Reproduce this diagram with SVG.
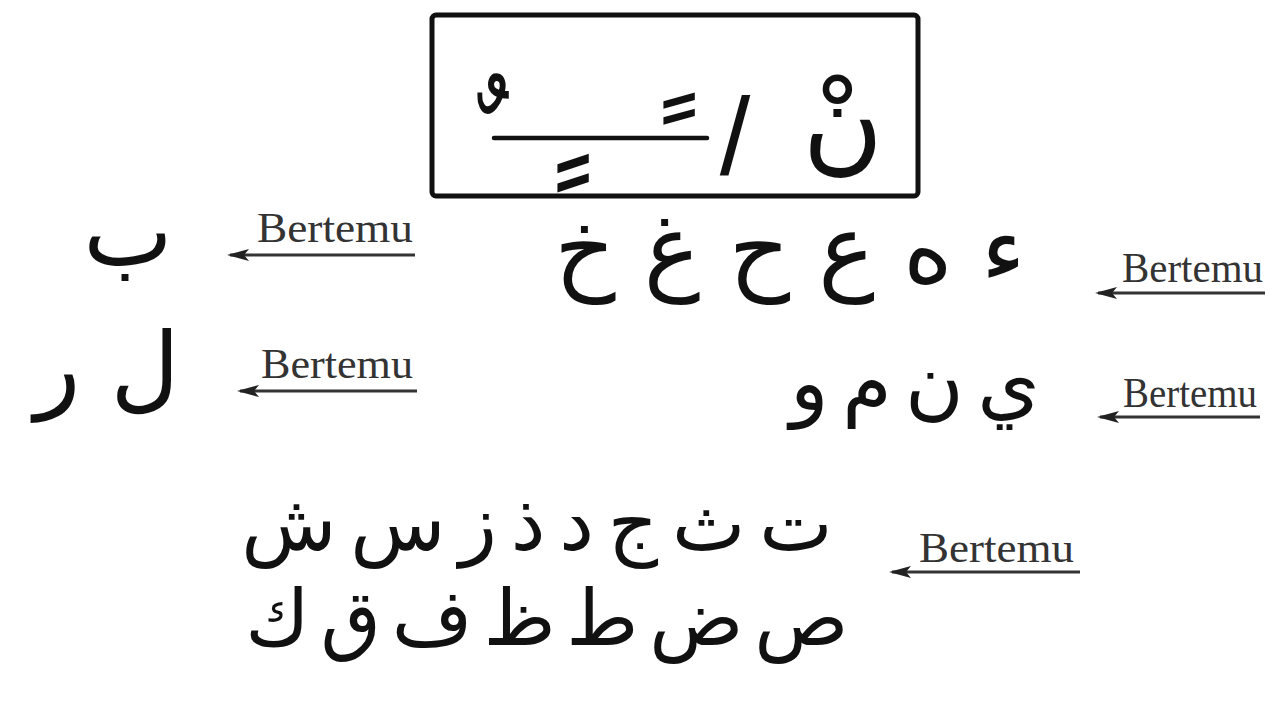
<svg xmlns="http://www.w3.org/2000/svg" width="1280" height="720" viewBox="0 0 1280 720">
<style>
.ar{font-family:"DejaVu Sans",sans-serif;fill:#111;text-anchor:middle}
.lbl{font-family:"Liberation Serif",serif;fill:#333;font-size:42px}
.arrow{stroke:#333;stroke-width:3;fill:none}
.mk{font-family:"DejaVu Sans",sans-serif;fill:#111;text-anchor:middle;font-size:110px}
</style>
<defs>
<marker id="ah" viewBox="0 0 22 12" refX="19" refY="6" markerWidth="22" markerHeight="12" orient="auto" markerUnits="userSpaceOnUse">
<path d="M22,6 L0,0 L5,6 L0,12 Z" fill="#222"/>
</marker>
</defs>
<rect width="1280" height="720" fill="#fff"/>
<g id="box">
<rect x="432" y="15" width="486" height="181" rx="4" fill="#fff" stroke="#111" stroke-width="5"/>
<line x1="494" y1="138" x2="707" y2="138" stroke="#111" stroke-width="4.5" stroke-linecap="round"/>
<text class="mk" transform="translate(493,199) scale(1,1.3)">ﹲ</text>
<text class="mk" transform="translate(679,206) scale(1,1.25)">ﹰ</text>
<text class="mk" transform="translate(573,153) scale(1,1.5)">ﹴ</text>
<text x="735" y="174" font-size="110" style="font-family:'Liberation Sans',sans-serif;fill:#111;text-anchor:middle">/</text>
<text class="ar" x="843" y="160" font-size="110">نْ</text>
</g>
<g id="row-ba">
<text class="ar" x="128" y="265" font-size="95">ب</text>
</g>
<g id="row-lr">
<text class="ar" x="107" y="400" font-size="95">ل ر</text>
</g>
<g id="row-halqi">
<text class="ar" x="790" y="282" font-size="95" word-spacing="-2">ء ه ع ح غ خ</text>
</g>
<g id="row-ynmw">
<text class="ar" x="915" y="410" font-size="80" word-spacing="-12">ي ن م و</text>
</g>
<g id="row-ikhfa1">
<text class="ar" x="537" y="550" font-size="78" word-spacing="-11">ت ث ج د ذ ز س ش</text>
</g>
<g id="row-ikhfa2">
<text class="ar" x="547" y="645" font-size="78" word-spacing="-14">ص ض ط ظ ف ق ك</text>
</g>
<g id="labels">
<text class="lbl" x="257" y="242" textLength="156" lengthAdjust="spacingAndGlyphs">Bertemu</text>
<text class="lbl" x="261" y="378" textLength="152" lengthAdjust="spacingAndGlyphs">Bertemu</text>
<text class="lbl" x="1122" y="282" textLength="141" lengthAdjust="spacingAndGlyphs" font-size="38">Bertemu</text>
<text class="lbl" x="1123" y="407" textLength="134" lengthAdjust="spacingAndGlyphs" font-size="36">Bertemu</text>
<text class="lbl" x="919" y="562" textLength="155" lengthAdjust="spacingAndGlyphs">Bertemu</text>
</g>
<g id="connectors">
<line class="arrow" x1="415" y1="255" x2="230" y2="255" marker-end="url(#ah)"/>
<line class="arrow" x1="417" y1="391" x2="240" y2="391" marker-end="url(#ah)"/>
<line class="arrow" x1="1265" y1="293" x2="1098" y2="293" marker-end="url(#ah)"/>
<line class="arrow" x1="1260" y1="417" x2="1100" y2="417" marker-end="url(#ah)"/>
<line class="arrow" x1="1080" y1="572" x2="892" y2="572" marker-end="url(#ah)"/>
</g>
</svg>
